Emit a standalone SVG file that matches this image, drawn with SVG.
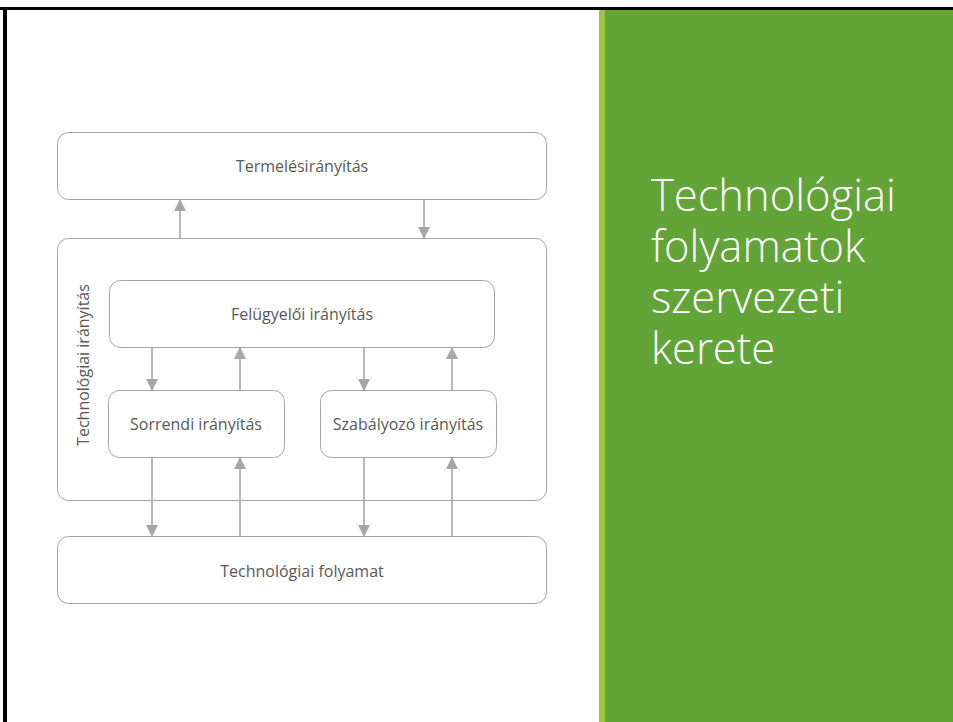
<svg xmlns="http://www.w3.org/2000/svg" width="953" height="722" viewBox="0 0 953 722">
  <style>
    .box { fill: #ffffff; stroke: #a6a6a6; stroke-width: 1; }
    .lbl { font-family: "Open Sans", "Liberation Sans", sans-serif; font-size: 16px; fill: #595959; text-anchor: middle; dominant-baseline: central; }
    .conn { stroke: #a6a6a6; stroke-width: 1.6; fill: none; marker-end: url(#head); }
    .title { font-family: "Open Sans", "Liberation Sans", sans-serif; font-weight: 300; font-size: 43.5px; fill: #ffffff; }
  </style>
  <defs>
    <marker id="head" viewBox="0 0 12 12" refX="11" refY="6" markerWidth="12" markerHeight="12" markerUnits="userSpaceOnUse" orient="auto">
      <path d="M0,0 L12,6 L0,12 Z" fill="#a6a6a6"/>
    </marker>
  </defs>

  <!-- slide frame -->
  <rect x="0" y="0" width="953" height="722" fill="#ffffff"/>
  <rect x="0" y="7" width="953" height="3" fill="#000000"/>
  <rect x="3" y="7" width="4" height="715" fill="#000000"/>

  <!-- title panel -->
  <rect x="599" y="10" width="354" height="712" fill="#62a438"/>
  <rect x="599" y="10" width="6" height="712" fill="#98c93c"/>
  <g id="title">
    <text class="title" x="651" y="211">Technológiai</text>
    <text class="title" x="651" y="262">folyamatok</text>
    <text class="title" x="651" y="313">szervezeti</text>
    <text class="title" x="651" y="364">kerete</text>
  </g>

  <!-- nodes -->
  <g id="termeles">
    <rect class="box" x="57.5" y="132.5" width="489" height="67" rx="11"/>
    <text class="lbl" x="302" y="166">Termelésirányítás</text>
  </g>
  <g id="technologiai-iranyitas">
    <rect class="box" x="57.5" y="238.5" width="489" height="262" rx="11"/>
    <text class="lbl" transform="translate(83 365) rotate(-90)" x="0" y="0">Technológiai irányítás</text>
  </g>
  <g id="felugyeloi">
    <rect class="box" x="109.5" y="280.5" width="385" height="67" rx="11"/>
    <text class="lbl" x="302" y="314">Felügyelői irányítás</text>
  </g>
  <g id="sorrendi">
    <rect class="box" x="108.5" y="390.5" width="176" height="67" rx="11"/>
    <text class="lbl" x="196" y="424">Sorrendi irányítás</text>
  </g>
  <g id="szabalyozo">
    <rect class="box" x="320.5" y="390.5" width="176" height="67" rx="11"/>
    <text class="lbl" x="408" y="424">Szabályozó irányítás</text>
  </g>
  <g id="folyamat">
    <rect class="box" x="57.5" y="536.5" width="489" height="67" rx="11"/>
    <text class="lbl" x="302" y="571">Technológiai folyamat</text>
  </g>

  <!-- connectors -->
  <g id="connectors">
    <line class="conn" x1="180" y1="238.5" x2="180" y2="200"/>
    <line class="conn" x1="424" y1="199.5" x2="424" y2="238"/>
    <line class="conn" x1="152" y1="347.5" x2="152" y2="390"/>
    <line class="conn" x1="240" y1="390.5" x2="240" y2="348"/>
    <line class="conn" x1="364" y1="347.5" x2="364" y2="390"/>
    <line class="conn" x1="452" y1="390.5" x2="452" y2="348"/>
    <line class="conn" x1="152" y1="457.5" x2="152" y2="536"/>
    <line class="conn" x1="240" y1="536.5" x2="240" y2="458"/>
    <line class="conn" x1="364" y1="457.5" x2="364" y2="536"/>
    <line class="conn" x1="452" y1="536.5" x2="452" y2="458"/>
  </g>
</svg>
